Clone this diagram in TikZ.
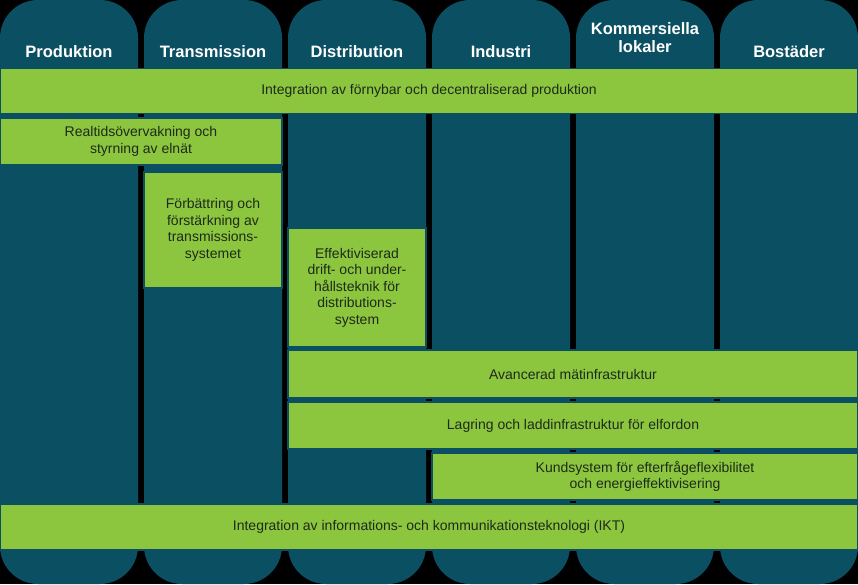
\documentclass[tikz,border=0pt]{standalone}
\usepackage{fontspec}
\setmainfont{Liberation Sans}
\definecolor{teal1}{HTML}{0B4F62}
\definecolor{grn}{HTML}{8CC63F}
\definecolor{txt}{HTML}{1E2A1A}
\begin{document}
\begin{tikzpicture}[x=1pt,y=-1pt,
  col/.style={fill=teal1,draw=none,rounded corners=38pt},
  hdr/.style={text=white,font=\bfseries\fontsize{16.5}{18}\selectfont,align=center,inner sep=0pt},
  bar/.style={fill=grn,draw=teal1,line width=1.2pt,inner sep=0pt,text=txt,align=center,font=\fontsize{14}{16.5}\selectfont}]
\useasboundingbox[fill=black] (0,0) rectangle (858,584);
\foreach \i in {0,...,5}{
  \fill[col] ({\i*144},0) rectangle ({\i*144+138},584);
}
\node[hdr] (h1) at (69,52) {Produktion};
\node[hdr] (h2) at (213,52) {Transmission};
\node[hdr] (h3) at (357,52) {Distribution};
\node[hdr] (h4) at (501,52) {Industri};
\node[hdr] (h5) at (645,38) {Kommersiella\\lokaler};
\node[hdr] (h6) at (789,52) {Bostäder};
\node[bar,minimum width=858pt,minimum height=45pt] (b1) at (429,91) {Integration av förnybar och decentraliserad produktion};
\node[bar,minimum width=282pt,minimum height=47pt] (b2) at (141,141.5) {Realtidsövervakning och\\styrning av elnät};
\node[bar,minimum width=138pt,minimum height=116pt] (b3) at (213,230) {Förbättring och\\förstärkning av\\transmissions-\\systemet};
\node[bar,minimum width=138pt,minimum height=119pt] (b4) at (357,287.5) {Effektiviserad\\drift- och under-\\hållsteknik för\\distributions-\\system};
\node[bar,minimum width=570pt,minimum height=48pt] (b5) at (573,374) {Avancerad mätinfrastruktur};
\node[bar,minimum width=570pt,minimum height=47pt] (b6) at (573,425.5) {Lagring och laddinfrastruktur för elfordon};
\node[bar,minimum width=426pt,minimum height=47pt] (b7) at (645,476.5) {Kundsystem för efterfrågeflexibilitet\\och energieffektivisering};
\node[bar,minimum width=858pt,minimum height=46pt] (b8) at (429,527) {Integration av informations- och kommunikationsteknologi (IKT)};
\end{tikzpicture}
\end{document}
